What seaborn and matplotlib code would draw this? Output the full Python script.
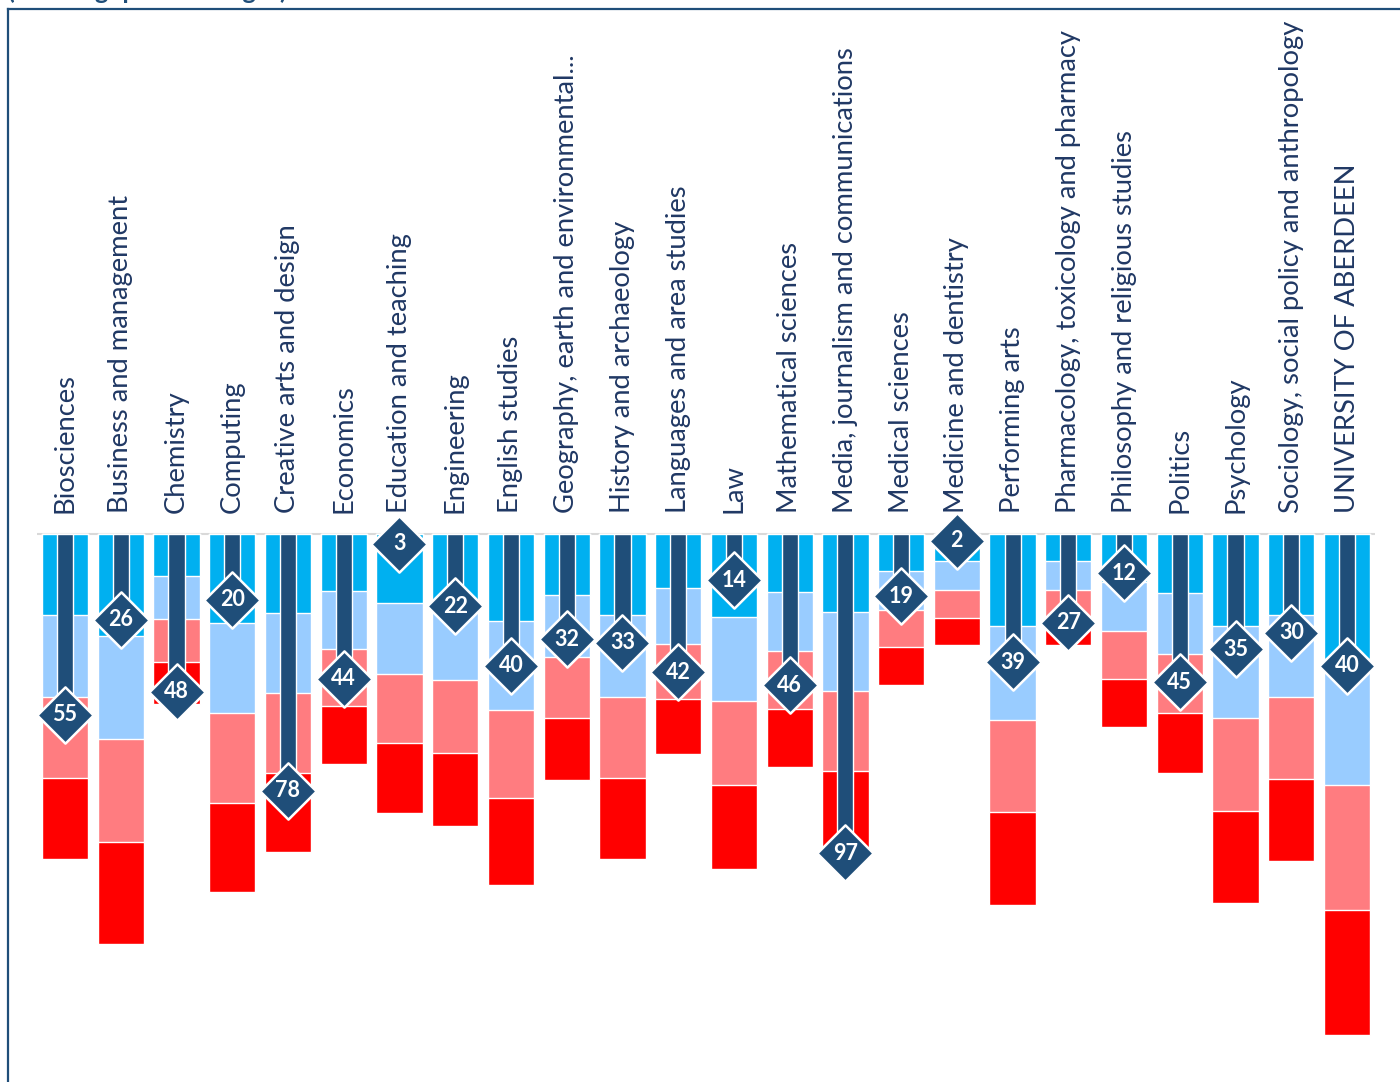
#!/usr/bin/python3
# coding: utf-8
# 学科排名: 四分位区间 (堆叠条) + 实际排名 (深蓝细条 + 菱形标记)
import numpy as np
import pandas as pd
import matplotlib.pyplot as plt
import seaborn as sns

subjects = ["Biosciences", "Business and management", "Chemistry", "Computing",
            "Creative arts and design", "Economics", "Education and teaching",
            "Engineering", "English studies", "Geography, earth and environmental...",
            "History and archaeology", "Languages and area studies", "Law",
            "Mathematical sciences", "Media, journalism and communications",
            "Medical sciences", "Medicine and dentistry", "Performing arts",
            "Pharmacology, toxicology and pharmacy", "Philosophy and religious studies",
            "Politics", "Psychology", "Sociology, social policy and anthropology",
            "UNIVERSITY OF ABERDEEN"]

# 四分位边界 (从 0 往下累计)
q1_end = [24.6, 31.0, 12.8, 27.1, 24.0, 17.3, 21.0, 22.2, 26.4, 18.5, 24.6, 16.4,
          25.2, 17.6, 23.7, 11.2, 8.2, 28.0, 8.2, 14.6, 17.9, 28.0, 24.6, 38.0]
q2_end = [49.5, 62.3, 25.8, 54.4, 48.3, 35.0, 42.6, 44.4, 53.5, 37.4, 49.5, 33.4,
          50.8, 35.6, 47.7, 23.1, 17.0, 56.5, 17.0, 29.5, 36.5, 55.9, 49.5, 76.3]
q3_end = [74.2, 93.6, 38.9, 81.8, 72.6, 52.3, 63.5, 66.6, 80.2, 55.9, 74.2, 50.2,
          76.3, 53.2, 72.0, 34.3, 25.5, 84.5, 25.5, 44.1, 54.4, 84.2, 74.5, 114.3]
q4_end = [98.8, 124.6, 51.7, 108.8, 96.7, 69.9, 84.8, 88.8, 106.7, 74.8, 98.8, 66.9,
          101.8, 70.8, 95.4, 45.9, 33.7, 112.8, 33.7, 58.7, 72.6, 112.2, 99.4, 152.3]
rank = [55, 26, 48, 20, 78, 44, 3, 22, 40, 32, 33, 42, 14, 46, 97, 19, 2, 39, 27, 12,
        45, 35, 30, 40]

df = pd.DataFrame({"subject": subjects, "q1": q1_end, "q2": q2_end,
                   "q3": q3_end, "q4": q4_end, "rank": rank})

navy = "#1F4E79"
band_colors = {"q4": "#FF0000", "q3": "#FF7C80", "q2": "#99CCFF", "q1": "#00B0F0"}

sns.set_style("white")
plt.rcParams['font.family'] = ['Lato', 'DejaVu Sans']

fig = plt.figure(figsize=(14, 10.82), dpi=100)
ax = fig.add_axes([8 / 1400, 0, 1392 / 1400, 1073 / 1082])

# 大的先画, 小的盖在上面
for col in ["q4", "q3", "q2", "q1"]:
    sns.barplot(data=df, x="subject", y=col, color=band_colors[col], width=0.83,
                saturation=1, errorbar=None, ax=ax, zorder=2)
sns.barplot(data=df, x="subject", y="rank", color=navy, width=0.29,
            saturation=1, errorbar=None, ax=ax, zorder=3)

xs = np.arange(len(subjects))
ax.scatter(xs, df["rank"], marker="D", s=820, color=navy, edgecolor="white",
           linewidth=1.8, zorder=5)
for x, r in zip(xs, rank):
    ax.text(x, r, str(r), color="white", fontsize=15.5, fontweight="bold",
            ha="center", va="center", zorder=6)

# 类别名写在基线上方
for x, s in zip(xs, subjects):
    ax.text(x, -6.4, s, rotation=90, ha="center", va="bottom",
            fontsize=19.7, color="#203864")

ax.hlines(0, -0.5, len(subjects) - 0.5, color="#D9D9D9", linewidth=1.5, zorder=1)

ax.set_xlim(-1.023, 23.95)
ax.set_ylim(166.6, -159.6)
ax.set_xticks([])
ax.set_yticks([])
ax.set_xlabel("")
ax.set_ylabel("")
for side in ["right", "bottom"]:
    ax.spines[side].set_visible(False)
for side in ["left", "top"]:
    ax.spines[side].set_color(navy)
    ax.spines[side].set_linewidth(1.6)

# 标题只露出下半截 (原图即如此)
fig.text(0.006, 1 + 1 / 1082, "(showing quartile ranges)", fontsize=18,
         fontweight="bold", color=navy, ha="left", va="baseline")

fig.savefig("out.png", dpi=100)
